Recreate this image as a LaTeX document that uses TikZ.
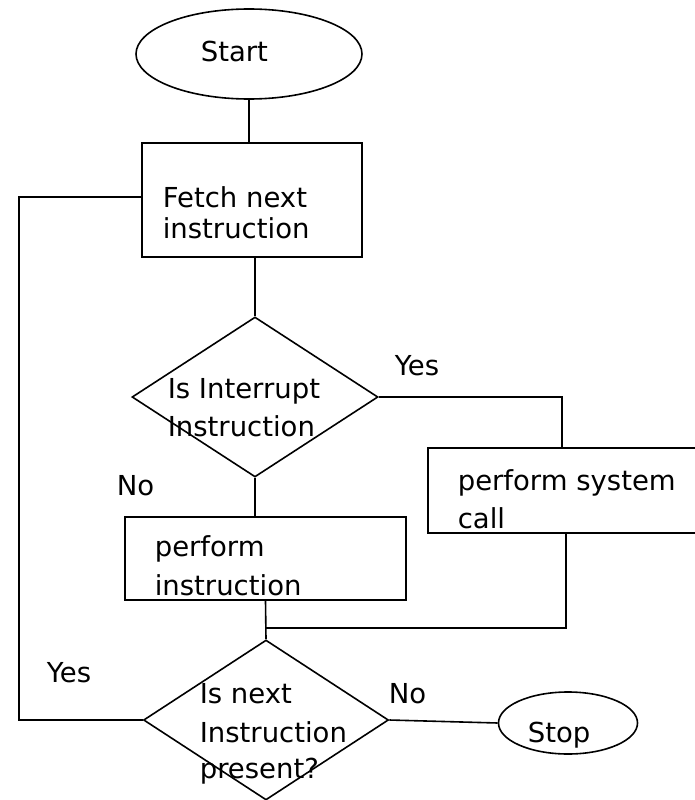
\documentclass[tikz,border=0pt]{standalone}
\usepackage{fontspec}
\setmainfont{DejaVu Sans}
\usetikzlibrary{shapes.geometric}
\begin{document}
\begin{tikzpicture}[x=1pt,y=-1pt,line width=1.6pt,
  oval/.style={draw,ellipse,inner sep=0pt},
  box/.style={draw,rectangle,inner sep=0pt},
  decision/.style={draw,diamond,inner sep=0pt},
  txt/.style={inner sep=0pt,anchor=base west,font=\fontsize{27.5}{33}\selectfont}]
\useasboundingbox (0,0) rectangle (695,800);
\clip (0,0) rectangle (695,800);
% shapes
\node[oval,minimum width=226pt,minimum height=90pt] (start) at (249,54) {};
\node[box,minimum width=220pt,minimum height=114pt] (fetch) at (252,200) {};
\node[decision,minimum width=246pt,minimum height=160pt] (d1) at (255,397) {};
\node[box,minimum width=282pt,minimum height=85pt] (sys) at (569,490.5) {};
\node[box,minimum width=281pt,minimum height=83pt] (perf) at (265.5,558.5) {};
\node[decision,minimum width=245pt,minimum height=160pt] (d2) at (266,720) {};
\node[oval,minimum width=139pt,minimum height=62pt] (stop) at (568,723) {};
% junction coordinates
\coordinate (j1) at (562,397);
\coordinate (j2) at (566,628);
\coordinate (j3) at (19,197);
% connectors
\draw (start.south) -- (start.south |- fetch.north);
\draw (d1.north |- fetch.south) -- (d1.north);
\draw (d1.east) -- (j1) -- (j1 |- sys.north);
\draw (d1.south) -- (d1.south |- perf.north);
\draw (perf.south) -- (d2.north);
\draw (j2 |- sys.south) -- (j2) -- (j2 -| perf.south);
\draw (d2.west) -| (j3) -- (j3 -| fetch.west);
\draw (d2.east) -- (stop.west);
% texts
\node[txt] (tstart) at (200,62) {Start};
\node[txt] (tf1) at (162,207) {Fetch next};
\node[txt] (tf2) at (162,238) {instruction};
\node[txt] (ti1) at (167,398) {Is Interrupt};
\node[txt] (ti2) at (167,436) {Instruction};
\node[txt] (tyes1) at (394,375) {Yes};
\node[txt] (tno1) at (116,495) {No};
\node[txt] (ts1) at (457,490) {perform system};
\node[txt] (ts2) at (457,528) {call};
\node[txt] (tp1) at (154,556) {perform};
\node[txt] (tp2) at (154,595) {instruction};
\node[txt] (tyes2) at (46,682) {Yes};
\node[txt] (tn1) at (199,703) {Is next};
\node[txt] (tn2) at (199,742) {Instruction};
\node[txt] (tn3) at (199,778) {present?};
\node[txt] (tno2) at (388,703) {No};
\node[txt] (tstop) at (527,742) {Stop};
\end{tikzpicture}
\end{document}
